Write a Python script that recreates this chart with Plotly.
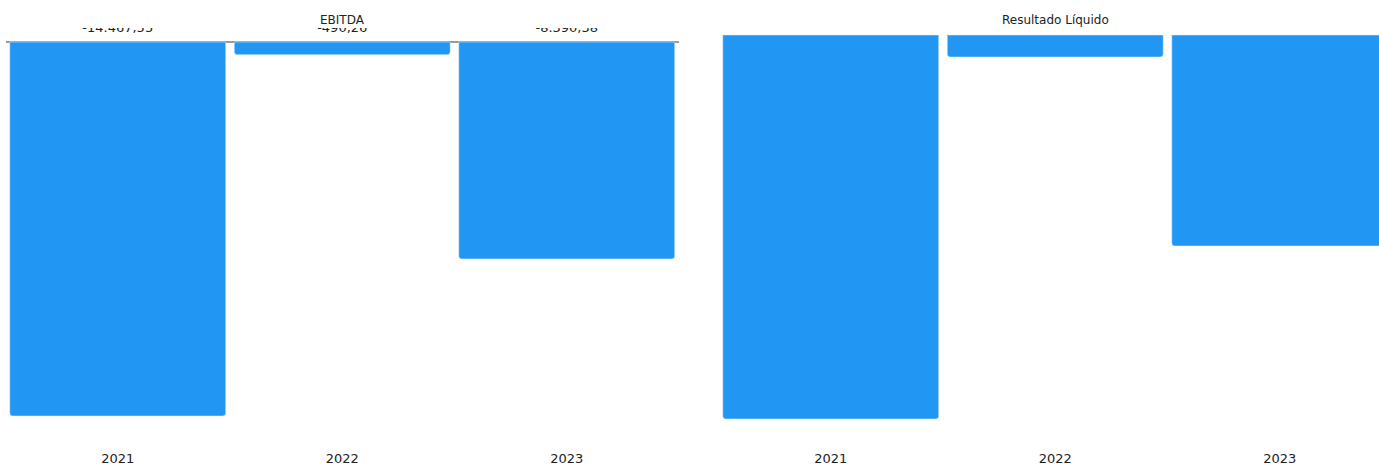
import plotly.graph_objects as go

years = ["2021", "2022", "2023"]
ebitda = [-14467.55, -490.26, -8390.38]
resultado = [-15730.0, -901.0, -8643.0]

BLUE = "#2196F3"
FONT = "DejaVu Sans"


def fmt_br(v):
    s = f"{v:,.2f}"
    return s.replace(",", "X").replace(".", ",").replace("X", ".")


ebitda_labels = [fmt_br(v) for v in ebitda]

W, H = 1379, 465
top_px, bot_px = 28, 449
# left: zero at 42, 2021 bottom at 416
z1, b1 = 42, 416
s1 = abs(ebitda[0]) / (b1 - z1)
y1_range = [-(bot_px - z1) * s1, (z1 - top_px) * s1]
# right: zero at 35, 2021 bottom at 419
z2, b2 = 35, 419
s2 = abs(resultado[0]) / (b2 - z2)
y2_range = [-(bot_px - z2) * s2, (z2 - top_px) * s2]
label_shift = 7 * s1  # pixel offset of value labels above the zero line

fig = go.Figure()

fig.add_trace(go.Bar(
    x=years, y=ebitda, marker=dict(color=BLUE, cornerradius=3),
    xaxis="x", yaxis="y", hoverinfo="x+y", showlegend=False,
))
fig.add_trace(go.Scatter(
    x=years, y=[label_shift] * len(years), mode="text", text=ebitda_labels,
    textposition="top center", cliponaxis=True,
    textfont=dict(family=FONT, size=13, color="#222"),
    xaxis="x", yaxis="y", hoverinfo="skip", showlegend=False,
))
fig.add_trace(go.Bar(
    x=years, y=resultado, marker=dict(color=BLUE, cornerradius=3),
    xaxis="x2", yaxis="y2", hoverinfo="x+y", showlegend=False,
))

cat_w = 224.5
left_l, left_r = 5.5, 5.5 + 3 * cat_w
right_l = 718.5
right_end_cat = -0.5 + (W - right_l) / cat_w
plot_h = bot_px - top_px
title_y = (bot_px - 20) / plot_h

fig.update_layout(
    width=W, height=H,
    margin=dict(l=0, r=0, t=top_px, b=H - bot_px, pad=0),
    paper_bgcolor="white", plot_bgcolor="white",
    bargap=0.038,
    font=dict(family=FONT, size=13, color="#222"),
    xaxis=dict(domain=[left_l / W, left_r / W], range=[-0.5, 2.5],
               showgrid=False, showline=False, ticks="", zeroline=False,
               tickfont=dict(size=13, color="#222"), anchor="y",
               fixedrange=True),
    yaxis=dict(range=y1_range, showgrid=False, showticklabels=False,
               zeroline=True, zerolinecolor="#9a9a9a", zerolinewidth=1.5,
               anchor="x", fixedrange=True),
    xaxis2=dict(domain=[right_l / W, 1.0], range=[-0.5, right_end_cat],
                showgrid=False, showline=False, ticks="", zeroline=False,
                tickfont=dict(size=13, color="#222"), anchor="y2",
                fixedrange=True),
    yaxis2=dict(range=y2_range, showgrid=False, showticklabels=False,
                zeroline=False, anchor="x2", fixedrange=True),
    annotations=[
        dict(text="EBITDA", x=(left_l + left_r) / 2 / W, y=title_y,
             xref="paper", yref="paper", xanchor="center", yanchor="middle",
             showarrow=False, font=dict(size=12, color="#222")),
        dict(text="Resultado Líquido",
             x=(right_l + right_l + 3 * cat_w) / 2 / W, y=title_y,
             xref="paper", yref="paper", xanchor="center", yanchor="middle",
             showarrow=False, font=dict(size=12, color="#222")),
    ],
)

fig.write_html("out.html", config={"displayModeBar": False},
               post_script="document.body.style.margin='0px';")
